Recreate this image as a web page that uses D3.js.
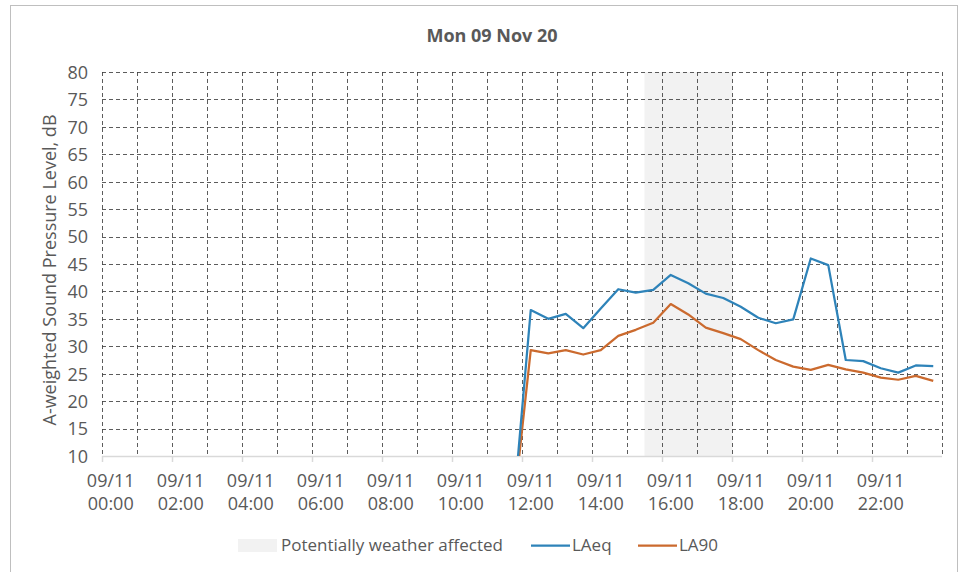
<!DOCTYPE html>
<html>
<head>
<meta charset="utf-8">
<script src="https://cdn.jsdelivr.net/npm/d3@7"></script>
<style>
  html, body { margin: 0; padding: 0; background: #fff; }
  svg { display: block; font-family: "Open Sans", Lato, sans-serif; }
</style>
</head>
<body>
<svg id="chart" width="965" height="572"></svg>
<script>
// Half-hourly categories for the day
const times = [
  "00:00","00:30","01:00","01:30","02:00","02:30","03:00","03:30",
  "04:00","04:30","05:00","05:30","06:00","06:30","07:00","07:30",
  "08:00","08:30","09:00","09:30","10:00","10:30","11:00","11:30",
  "12:00","12:30","13:00","13:30","14:00","14:30","15:00","15:30",
  "16:00","16:30","17:00","17:30","18:00","18:30","19:00","19:30",
  "20:00","20:30","21:00","21:30","22:00","22:30","23:00","23:30"
];
const datePrefix = "09/11";

// Sound levels in dB; no measurement before noon (recorded as 0)
const laeq = [
  0,0,0,0,0,0,0,0,0,0,0,0,0,0,0,0,0,0,0,0,0,0,0,0,
  36.6,35.0,35.9,33.3,36.9,40.4,39.8,40.3,43.0,41.5,39.6,38.8,
  37.2,35.2,34.2,34.9,46.0,44.8,27.5,27.3,26.0,25.2,26.5,26.4
];
const la90 = [
  0,0,0,0,0,0,0,0,0,0,0,0,0,0,0,0,0,0,0,0,0,0,0,0,
  29.3,28.7,29.3,28.5,29.3,31.9,33.0,34.3,37.7,35.8,33.4,32.4,
  31.3,29.3,27.5,26.3,25.7,26.6,25.8,25.2,24.3,23.9,24.6,23.7
];
// Periods flagged as potentially weather affected
const weather = [
  0,0,0,0,0,0,0,0,0,0,0,0,0,0,0,0,0,0,0,0,0,0,0,0,
  0,0,0,0,0,0,0,1,1,1,1,1,0,0,0,0,0,0,0,0,0,0,0,0
];
const yTicks = [10,15,20,25,30,35,40,45,50,55,60,65,70,75,80];

const title = "Mon 09 Nov 20";
const yTitle = "A-weighted Sound Pressure Level, dB";
const seriesNames = ["LAeq", "LA90"];
const shadeName = "Potentially weather affected";

const colors = { laeq: "#2E83B9", la90: "#CB6A2E", shade: "#F2F2F2", grid: "#404040", text: "#595959", axis: "#D9D9D9" };
const fs = 18;      // axis text
const fsLegend = 17;

const svg = d3.select("#chart");
const W = 965, H = 572;
const plot = { left: 102, right: 942, top: 72, bottom: 456 };

svg.append("rect").attr("width", W).attr("height", H).attr("fill", "#fff");
// chart frame
svg.append("rect").attr("x", 10.5).attr("y", 5.5).attr("width", 947).attr("height", 580)
  .attr("fill", "none").attr("stroke", "#BFBFBF").attr("stroke-width", 1);

const x = d3.scaleBand().domain(times).range([plot.left, plot.right]).paddingInner(0).paddingOuter(0);
const y = d3.scaleLinear().domain([10, 80]).range([plot.bottom, plot.top]);
const cx = t => x(t) + x.bandwidth() / 2;

// weather shading bands
svg.append("g").selectAll("rect")
  .data(times.filter((t, i) => weather[i]))
  .join("rect")
  .attr("x", t => x(t))
  .attr("width", x.bandwidth() + 0.5)
  .attr("y", y(80))
  .attr("height", y(10) - y(80))
  .attr("fill", colors.shade);

// horizontal gridlines
svg.append("g").selectAll("line")
  .data(yTicks.filter(v => v > 10))
  .join("line")
  .attr("x1", plot.left).attr("x2", plot.right)
  .attr("y1", d => Math.round(y(d)) + 0.5).attr("y2", d => Math.round(y(d)) + 0.5)
  .attr("stroke", colors.grid).attr("stroke-width", 1).attr("stroke-dasharray", "4,3").attr("opacity", 0.85);

// vertical gridlines on each hour boundary, plus the right edge
const hourEdges = times.filter((t, i) => i % 2 === 0).map(t => x(t)).concat([plot.right]);
svg.append("g").selectAll("line")
  .data(hourEdges)
  .join("line")
  .attr("x1", d => Math.round(d) + 0.5).attr("x2", d => Math.round(d) + 0.5)
  .attr("y1", plot.top).attr("y2", plot.bottom)
  .attr("stroke", colors.grid).attr("stroke-width", 1).attr("stroke-dasharray", "4,3").attr("opacity", 0.85);

// y axis labels
const yAxis = d3.axisLeft(y).tickValues(yTicks).tickSize(0).tickPadding(0);
const gy = svg.append("g").attr("transform", `translate(${plot.left - 14},0)`).call(yAxis);
gy.select(".domain").remove();
gy.selectAll("text").attr("fill", colors.text).attr("font-size", fs).attr("font-family", "'Open Sans', sans-serif").attr("dy", "0.35em");

// x axis: line, ticks every two hours, two-line labels
svg.append("line").attr("x1", plot.left).attr("x2", plot.right)
  .attr("y1", plot.bottom + 0.5).attr("y2", plot.bottom + 0.5)
  .attr("stroke", colors.axis).attr("stroke-width", 1.5);
const labelled = times.filter((t, i) => i % 4 === 0);
svg.append("g").selectAll("line")
  .data(labelled)
  .join("line")
  .attr("x1", t => Math.round(x(t)) + 0.5).attr("x2", t => Math.round(x(t)) + 0.5)
  .attr("y1", plot.bottom).attr("y2", plot.bottom + 6)
  .attr("stroke", colors.axis).attr("stroke-width", 1.5);
const xl = svg.append("g").selectAll("text")
  .data(labelled)
  .join("text")
  .attr("x", t => cx(t))
  .attr("y", plot.bottom + 31)
  .attr("text-anchor", "middle")
  .attr("fill", colors.text)
  .attr("font-size", fs);
xl.append("tspan").attr("x", t => cx(t)).text(datePrefix);
xl.append("tspan").attr("x", t => cx(t)).attr("dy", 23).text(t => t);

// clip lines to the plot area
svg.append("clipPath").attr("id", "plotClip").append("rect")
  .attr("x", plot.left).attr("y", plot.top).attr("width", plot.right - plot.left).attr("height", plot.bottom - plot.top);

const line = d3.line().x((d, i) => cx(times[i])).y(d => y(d));
const lines = svg.append("g").attr("clip-path", "url(#plotClip)");
lines.append("path").datum(la90).attr("d", line).attr("fill", "none")
  .attr("stroke", colors.la90).attr("stroke-width", 2.25).attr("stroke-linejoin", "round");
lines.append("path").datum(laeq).attr("d", line).attr("fill", "none")
  .attr("stroke", colors.laeq).attr("stroke-width", 2.25).attr("stroke-linejoin", "round");

// title
svg.append("text").attr("x", 492).attr("y", 42).attr("text-anchor", "middle")
  .attr("font-size", 18).attr("font-weight", "bold").attr("fill", colors.text).text(title);

// y axis title
svg.append("text").attr("transform", `translate(56,${(plot.top + plot.bottom) / 2 + 6}) rotate(-90)`)
  .attr("text-anchor", "middle").attr("font-size", fs).attr("fill", colors.text).text(yTitle);

// legend
const lg = svg.append("g").attr("font-size", fsLegend).attr("fill", colors.text);
lg.append("rect").attr("x", 238).attr("y", 539).attr("width", 39).attr("height", 13).attr("fill", colors.shade);
lg.append("text").attr("x", 281).attr("y", 551).attr("fill", colors.text).text(shadeName);
lg.append("line").attr("x1", 531).attr("x2", 570).attr("y1", 545.5).attr("y2", 545.5)
  .attr("stroke", colors.laeq).attr("stroke-width", 2.25);
lg.append("text").attr("x", 572).attr("y", 551).attr("fill", colors.text).text(seriesNames[0]);
lg.append("line").attr("x1", 638).attr("x2", 677).attr("y1", 545.5).attr("y2", 545.5)
  .attr("stroke", colors.la90).attr("stroke-width", 2.25);
lg.append("text").attr("x", 679).attr("y", 551).attr("fill", colors.text).text(seriesNames[1]);
</script>
</body>
</html>
